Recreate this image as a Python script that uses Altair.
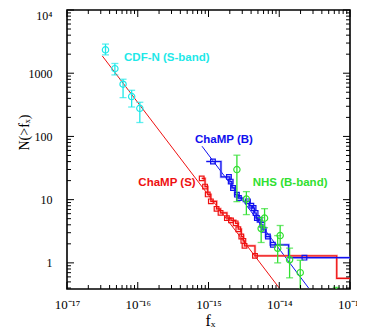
import altair as alt
import pandas as pd

# ---------------- axes ----------------
x_domain = [1e-17, 1e-13]
y_domain = [0.386, 1e4]
x_major = [1e-17, 1e-16, 1e-15, 1e-14, 1e-13]
x_labels = ["10⁻¹⁷", "10⁻¹⁶", "10⁻¹⁵", "10⁻¹⁴", "10⁻¹³"]
y_major = [1, 10, 100, 1000, 10000]
y_labels = ["1", "10", "100", "1000", "10⁴"]
minor_mults = [2, 3, 4, 5, 6, 7, 8, 9]
x_decades = [1e-17, 1e-16, 1e-15, 1e-14]
y_decades = [0.1, 1, 10, 100, 1000]

# ---------------- data ----------------
# CDF-N (S-band)
cdf_f = [3.5e-17, 4.75e-17, 6.2e-17, 8.2e-17, 1.07e-16]
cdf_n = [2340, 1180, 670, 427, 278]
cdf_lo = [1950, 940, 411, 292, 166]
cdf_hi = [2890, 1426, 803, 537, 347]

# NHS (B-band)
nhs_f = [2.52e-15, 3.43e-15, 5.55e-15, 6.2e-15, 9.5e-15, 1.03e-14, 1.4e-14, 1.98e-14, 6.4e-14]
nhs_n = [29.9, 10.2, 3.5, 5.1, 1.7, 2.7, 1.12, 0.70, 0.2]
nhs_lo = [9.3, 5.8, 2.1, 3.6, 1.0, 1.9, 0.58, 0.1, 0.1]
nhs_hi = [50.5, 13.4, 5.2, 7.2, 2.7, 3.9, 1.71, 1.10, 0.41]

# ChaMP (S)
s_f = [8.02e-16, 8.94e-16, 9.75e-16, 1.08e-15, 1.30e-15, 1.48e-15, 1.82e-15,
       2.08e-15, 2.42e-15, 2.64e-15, 2.91e-15, 3.11e-15, 3.23e-15, 4.54e-15]
s_n = [21.7, 16.1, 12.1, 9.4, 7.15, 6.18, 5.10, 4.70, 4.22, 3.41, 2.61, 2.23, 1.86, 1.29]
s_tail_f = [6.49e-14, 1e-13]
s_tail_n = [0.57, 0.57]
s_fit_f = [3.15e-17, 1e-14]
s_fit_n = [1880, 0.40]

# ChaMP (B)
b_f = [1.156e-15, 1.945e-15, 2.06e-15, 2.22e-15, 2.52e-15, 2.69e-15, 3.61e-15, 4.03e-15,
       4.34e-15, 4.63e-15, 4.83e-15, 5.27e-15, 5.75e-15, 6.01e-15, 6.91e-15, 8.12e-15, 2.27e-14]
b_n = [40.1, 22.9, 19.3, 15.3, 12.0, 10.6, 9.4, 8.03, 7.38, 6.15, 5.12, 4.81, 4.01, 3.34,
       2.61, 1.93, 1.21]
b_head_f = [9.3e-16]
b_head_n = [40.1]
b_tail_f = [1e-13]
b_tail_n = [1.21]
b_fit_f = [8.1e-16, 2.6e-14]
b_fit_n = [70, 0.40]

# labels
lab_text = ["CDF-N (S-band)", "ChaMP (B)", "ChaMP (S)", "NHS (B-band)"]
lab_f = [6.4e-17, 6.44e-16, 1.02e-16, 4.22e-15]
lab_n = [1754, 88.3, 18.2, 18.2]
lab_col = ["#1ee8e8", "#1010ee", "#ee1010", "#30e030"]

RED = "#ee1111"
BLUE = "#1111ee"
CYAN = "#1ee8e8"
GREEN = "#30e030"

W, H = 283, 279
SERIF = "Liberation Serif"


def label_expr(vals, labs):
    expr = "''"
    for v, l in reversed(list(zip(vals, labs))):
        expr = f"datum.value < {v * 3} ? '{l}' : " + expr
    return expr


xs = alt.Scale(type="log", domain=x_domain, nice=False)
ys = alt.Scale(type="log", domain=y_domain, nice=False)

x_axis = alt.Axis(values=x_major, labelExpr=label_expr(x_major, x_labels), ticks=False, tickSize=0,
                  domain=False, grid=False, labelFlush=False, labelOverlap=False, labelPadding=9,
                  labelFont=SERIF, labelFontSize=13, labelColor="black", title="fₓ",
                  titleFont=SERIF, titleFontSize=16, titleFontWeight="normal", titleColor="black",
                  titleX=143, titleY=31, titleBaseline="middle", titleAlign="center")
y_axis = alt.Axis(values=y_major, labelExpr=label_expr(y_major, y_labels), ticks=False, tickSize=0,
                  domain=False, grid=False, labelFlush=False, labelOverlap=False, labelPadding=15,
                  labelFont=SERIF, labelFontSize=12, labelColor="black",
                  labelBaseline={"condition": {"test": "datum.value > 5000", "value": "top"},
                                 "value": "middle"},
                  title="N(>fₓ)",
                  titleFont=SERIF, titleFontSize=14, titleFontWeight="normal", titleColor="black",
                  titleX=-43, titleY=122, titleAngle=270, titleBaseline="middle", titleAlign="center")


def X(field="f"):
    return alt.X(f"{field}:Q", scale=xs, axis=x_axis)


def Y(field="n"):
    return alt.Y(f"{field}:Q", scale=ys, axis=y_axis)


# fits
s_fit = alt.Chart(pd.DataFrame({"f": s_fit_f, "n": s_fit_n})).mark_line(
    color=RED, strokeWidth=1, clip=True).encode(x=X(), y=Y())
b_fit = alt.Chart(pd.DataFrame({"f": b_fit_f, "n": b_fit_n})).mark_line(
    color=BLUE, strokeWidth=1, clip=True).encode(x=X(), y=Y())

# step histograms
s_step_df = pd.DataFrame({"f": s_f + s_tail_f, "n": s_n + s_tail_n})
b_step_df = pd.DataFrame({"f": b_head_f + b_f + b_tail_f, "n": b_head_n + b_n + b_tail_n})
s_step_bg = alt.Chart(s_step_df).mark_line(color="#ff8080", strokeWidth=2.5, opacity=0.6,
                                           interpolate="step-after", clip=True).encode(x=X(), y=Y())
s_step = alt.Chart(s_step_df).mark_line(color=RED, strokeWidth=1.2, interpolate="step-after",
                                        clip=True).encode(x=X(), y=Y())
b_step_bg = alt.Chart(b_step_df).mark_line(color="#8080ff", strokeWidth=2.5, opacity=0.6,
                                           interpolate="step", clip=True).encode(x=X(), y=Y())
b_step = alt.Chart(b_step_df).mark_line(color=BLUE, strokeWidth=1.2, interpolate="step",
                                        clip=True).encode(x=X(), y=Y())

s_pts = alt.Chart(pd.DataFrame({"f": s_f, "n": s_n})).mark_point(
    shape="square", size=22, filled=False, color=RED, strokeWidth=1.2, opacity=1, clip=True
).encode(x=X(), y=Y())
b_pts = alt.Chart(pd.DataFrame({"f": b_f, "n": b_n})).mark_point(
    shape="square", size=22, filled=False, color=BLUE, strokeWidth=1.2, opacity=1, clip=True
).encode(x=X(), y=Y())


def errpoints(f, n, lo, hi, color):
    df = pd.DataFrame({"f": f, "n": n, "lo": lo, "hi": hi})
    base = alt.Chart(df)
    bars = base.mark_rule(color=color, strokeWidth=1.3, clip=True).encode(
        x=X(), y=Y("lo"), y2="hi:Q")
    cap_hi = base.mark_tick(color=color, orient="horizontal", size=7, thickness=1.3, clip=True).encode(
        x=X(), y=Y("hi"))
    cap_lo = base.mark_tick(color=color, orient="horizontal", size=7, thickness=1.3, clip=True).encode(
        x=X(), y=Y("lo"))
    pts = base.mark_point(shape="circle", size=40, filled=False, color=color, strokeWidth=1.2,
                          opacity=1, clip=True).encode(x=X(), y=Y())
    return [bars, cap_hi, cap_lo, pts]


cdf_layers = errpoints(cdf_f, cdf_n, cdf_lo, cdf_hi, CYAN)
nhs_layers = errpoints(nhs_f, nhs_n, nhs_lo, nhs_hi, GREEN)

labels = alt.Chart(pd.DataFrame({"f": lab_f, "n": lab_n, "t": lab_text, "c": lab_col})).mark_text(
    align="left", baseline="middle", font="Liberation Sans", fontSize=11.5, fontWeight="bold"
).encode(x=X(), y=Y(), text="t:N", color=alt.Color("c:N", scale=None))

# mirror ticks (inside the frame)
x_minor = [m * d for d in x_decades for m in minor_mults]
y_minor = [m * d for d in y_decades for m in minor_mults if m * d > y_domain[0]]
xmaj_df = pd.DataFrame({"f": x_major})
xmin_df = pd.DataFrame({"f": x_minor})
ymaj_df = pd.DataFrame({"n": y_major})
ymin_df = pd.DataFrame({"n": y_minor})


def xticks(df, length):
    bot = alt.Chart(df).mark_rule(color="black", strokeWidth=1).encode(
        x=X(), y=alt.value(H), y2=alt.value(H - length))
    top = alt.Chart(df).mark_rule(color="black", strokeWidth=1).encode(
        x=X(), y=alt.value(0), y2=alt.value(length))
    return [bot, top]


def yticks(df, length):
    left = alt.Chart(df).mark_rule(color="black", strokeWidth=1).encode(
        y=Y(), x=alt.value(0), x2=alt.value(length))
    right = alt.Chart(df).mark_rule(color="black", strokeWidth=1).encode(
        y=Y(), x=alt.value(W), x2=alt.value(W - length))
    return [left, right]


tick_layers = xticks(xmaj_df, 7) + xticks(xmin_df, 4) + yticks(ymaj_df, 7) + yticks(ymin_df, 4)

chart = alt.layer(
    s_fit, b_fit, s_step_bg, b_step_bg, s_step, b_step, s_pts, b_pts,
    *cdf_layers, *nhs_layers, labels, *tick_layers
).properties(
    width=W, height=H,
    autosize=alt.AutoSizeParams(type="none"),
    padding={"left": 59, "top": 2, "right": 7, "bottom": 38},
).configure_view(stroke="black", strokeWidth=1.6)

chart.save("out.html", embed_options={"renderer": "svg", "actions": False})
